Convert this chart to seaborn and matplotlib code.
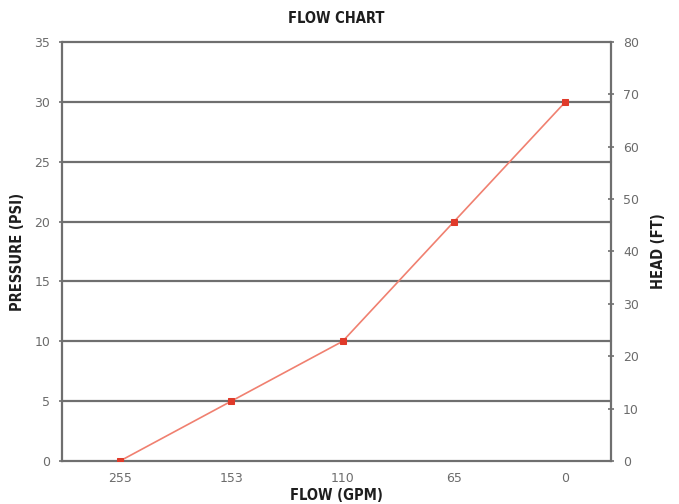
import pandas as pd
import matplotlib.pyplot as plt
import seaborn as sns

# flow (GPM) categories, left to right, and pressure readings
flow_labels = ["255", "153", "110", "65", "0"]
pressure_psi = [0, 5, 10, 20, 30]
psi_ticks = [0, 5, 10, 15, 20, 25, 30, 35]
head_ticks = [0, 10, 20, 30, 40, 50, 60, 70, 80]

df = pd.DataFrame({"pos": range(len(flow_labels)), "psi": pressure_psi})

sns.set_style("white")
narrow = ["DejaVu Sans", "Liberation Sans"]
tick_col = "#6b6b6b"
grid_col = "#6f6f6f"
lab = dict(family=narrow, fontweight="heavy", fontstretch="condensed", color="#1e1e1e")

fig = plt.figure(figsize=(6.79, 5.04), dpi=100)
ax = fig.add_axes([0.0913, 0.0853, 0.8087, 0.8314])

for y in psi_ticks[1:]:
    ax.axhline(y, color=grid_col, lw=1.6, zorder=1, clip_on=False)

sns.lineplot(data=df, x="pos", y="psi", ax=ax, color="#f08070", lw=1.2,
             marker="s", markersize=5, markerfacecolor="#e03a2a",
             markeredgecolor="#e03a2a", zorder=3)

ax.set_xlim(-0.52, 4.41)
ax.set_ylim(0, 35)
ax.set_yticks(psi_ticks)
ax.set_xticks(range(len(flow_labels)))
ax.set_xticklabels(flow_labels)
ax.set_xticks([-0.52, 0.5, 1.5, 2.5, 3.5, 4.41], minor=True)
ax.tick_params(axis="x", which="major", length=0, pad=8, labelsize=9, labelcolor=tick_col)
ax.tick_params(axis="x", which="minor", length=4, width=1.2, color=grid_col, direction="inout")
ax.tick_params(axis="y", length=5, width=1.2, color=grid_col, direction="inout",
               labelsize=9, labelcolor=tick_col, pad=6)

for s in ["left", "bottom"]:
    ax.spines[s].set_color(grid_col)
    ax.spines[s].set_linewidth(1.6)
for s in ["top", "right"]:
    ax.spines[s].set_visible(False)

ax2 = ax.twinx()
ax2.set_ylim(0, 80)
ax2.set_yticks(head_ticks)
ax2.tick_params(axis="y", length=5, width=1.2, color=grid_col, direction="inout",
                labelsize=9, labelcolor=tick_col, pad=6)
for s in ["left", "bottom", "top"]:
    ax2.spines[s].set_visible(False)
ax2.spines["right"].set_color(grid_col)
ax2.spines["right"].set_linewidth(1.6)

ax.set_xlabel("FLOW (GPM)", fontsize=10.5, labelpad=2, **lab)
ax.set_ylabel("PRESSURE (PSI)", fontsize=10.5, labelpad=7, **lab)
ax2.set_ylabel("HEAD (FT)", fontsize=10.5, labelpad=9, **lab)
ax.set_title("FLOW CHART", fontsize=10.5, pad=14, **lab)

plt.savefig("out.png", dpi=100)
